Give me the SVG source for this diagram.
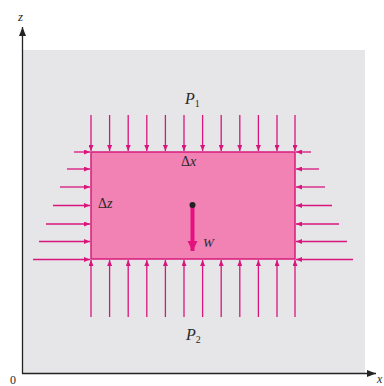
<svg xmlns="http://www.w3.org/2000/svg" width="384" height="386" viewBox="0 0 384 386">
<style>
.ar{stroke:#D8157C;stroke-width:1.3;fill:none;marker-end:url(#ah)}
.ax{stroke:#222;stroke-width:1.3;fill:none;marker-end:url(#axh)}
.lbl{font-family:"Liberation Serif",serif;font-style:italic;fill:#2a2a2a}
.sub{font-family:"Liberation Serif",serif;fill:#2a2a2a}
</style>
<defs>
<marker id="ah" markerUnits="userSpaceOnUse" markerWidth="6" markerHeight="5" refX="6" refY="2.5" orient="auto"><path d="M0,0 L6,2.5 L0,5 z" fill="#D8157C"/></marker>
<marker id="axh" markerUnits="userSpaceOnUse" markerWidth="9" markerHeight="7" refX="9" refY="3.5" orient="auto"><path d="M0,0 L9,3.5 L0,7 z" fill="#222"/></marker>
<marker id="wh" markerUnits="userSpaceOnUse" markerWidth="10" markerHeight="11" refX="10" refY="5" orient="auto"><path d="M0,0 L10,5 L0,10 z" fill="#E2137F"/></marker>
</defs>
<rect width="384" height="386" fill="#fff"/>
<rect id="field" x="22" y="50" width="343" height="323" fill="#E6E6E8"/>
<g id="block"><rect x="91" y="152" width="204" height="107" fill="#F281B4" stroke="#D81B7B" stroke-width="1.5"/></g>
<g id="connectors">
<g id="top">
<line class="ar" x1="91" y1="115" x2="91" y2="151"/><line class="ar" x1="109.6" y1="115" x2="109.6" y2="151"/><line class="ar" x1="128.2" y1="115" x2="128.2" y2="151"/><line class="ar" x1="146.8" y1="115" x2="146.8" y2="151"/><line class="ar" x1="165.4" y1="115" x2="165.4" y2="151"/><line class="ar" x1="184" y1="115" x2="184" y2="151"/><line class="ar" x1="202.6" y1="115" x2="202.6" y2="151"/><line class="ar" x1="221.2" y1="115" x2="221.2" y2="151"/><line class="ar" x1="239.8" y1="115" x2="239.8" y2="151"/><line class="ar" x1="258.4" y1="115" x2="258.4" y2="151"/><line class="ar" x1="277" y1="115" x2="277" y2="151"/><line class="ar" x1="295" y1="115" x2="295" y2="151"/>
</g>
<g id="bottom">
<line class="ar" x1="91" y1="317" x2="91" y2="260"/><line class="ar" x1="109.6" y1="317" x2="109.6" y2="260"/><line class="ar" x1="128.2" y1="317" x2="128.2" y2="260"/><line class="ar" x1="146.8" y1="317" x2="146.8" y2="260"/><line class="ar" x1="165.4" y1="317" x2="165.4" y2="260"/><line class="ar" x1="184" y1="317" x2="184" y2="260"/><line class="ar" x1="202.6" y1="317" x2="202.6" y2="260"/><line class="ar" x1="221.2" y1="317" x2="221.2" y2="260"/><line class="ar" x1="239.8" y1="317" x2="239.8" y2="260"/><line class="ar" x1="258.4" y1="317" x2="258.4" y2="260"/><line class="ar" x1="277" y1="317" x2="277" y2="260"/><line class="ar" x1="295" y1="317" x2="295" y2="260"/>
</g>
<g id="left">
<line class="ar" x1="74" y1="152" x2="90" y2="152"/><line class="ar" x1="67" y1="169" x2="90" y2="169"/><line class="ar" x1="60" y1="187" x2="90" y2="187"/><line class="ar" x1="53" y1="205.5" x2="90" y2="205.5"/><line class="ar" x1="46" y1="224" x2="90" y2="224"/><line class="ar" x1="39" y1="241.5" x2="90" y2="241.5"/><line class="ar" x1="33" y1="259.5" x2="90" y2="259.5"/>
</g>
<g id="right">
<line class="ar" x1="311" y1="152" x2="296" y2="152"/><line class="ar" x1="319" y1="169" x2="296" y2="169"/><line class="ar" x1="325" y1="187" x2="296" y2="187"/><line class="ar" x1="332" y1="205.5" x2="296" y2="205.5"/><line class="ar" x1="339" y1="224" x2="296" y2="224"/><line class="ar" x1="347" y1="241.5" x2="296" y2="241.5"/><line class="ar" x1="353" y1="259.5" x2="296" y2="259.5"/>
</g>
<g id="weight"><line x1="192.5" y1="207" x2="192.5" y2="251" stroke="#E2137F" stroke-width="4" marker-end="url(#wh)"/></g>
<g id="axes">
<line class="ax" x1="22.5" y1="373.5" x2="22.5" y2="27"/>
<line class="ax" x1="22" y1="373.5" x2="376" y2="373.5"/>
</g>
</g>
<g id="center"><circle cx="192.5" cy="205" r="3" fill="#222"/></g>
<g id="labels">
<text class="lbl" x="18" y="21" font-size="13">z</text>
<text class="lbl" x="377" y="383" font-size="12">x</text>
<text class="sub" x="10" y="384" font-size="12">0</text>
<text class="lbl" x="185" y="104" font-size="16">P<tspan class="sub" font-style="normal" font-size="10" dy="3">1</tspan></text>
<text class="lbl" x="181" y="166" font-size="14"><tspan font-style="normal">Δ</tspan>x</text>
<text class="lbl" x="98" y="208" font-size="14"><tspan font-style="normal">Δ</tspan>z</text>
<text class="lbl" x="203" y="247" font-size="13">W</text>
<text class="lbl" x="186" y="340" font-size="16">P<tspan class="sub" font-style="normal" font-size="10" dy="3">2</tspan></text>
</g>
</svg>
